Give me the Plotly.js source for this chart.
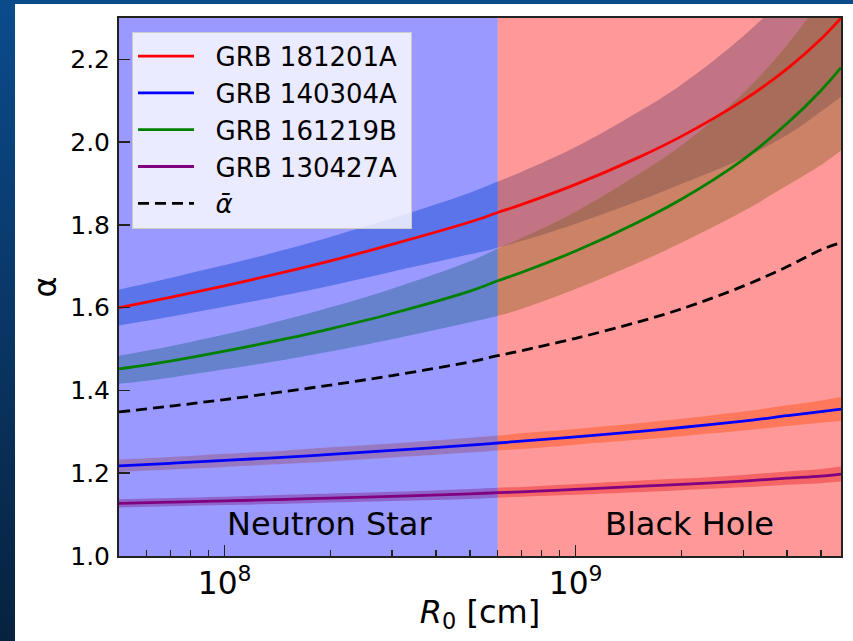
<!DOCTYPE html>
<html><head><meta charset="utf-8">
<script src="https://cdn.plot.ly/plotly-3.0.1.min.js"></script>
<style>
html,body{margin:0;padding:0;width:853px;height:641px;overflow:hidden;background:linear-gradient(to bottom,#0b4b8c,#07223f);}
#chart{position:absolute;left:15px;top:4px;width:838px;height:637px;background:#fff;}
</style></head><body><div id="chart"></div>
<script>
// R0 sample positions [cm]
const R0 = [5e7, 7e7, 1e8, 1.5e8, 2e8, 3e8, 5e8, 6e8, 7e8, 1e9, 1.5e9, 2e9, 3e9, 4e9, 5e9, 5.7e9];

// GRB 181201A
const grb181201A = [1.600, 1.625, 1.653, 1.687, 1.713, 1.753, 1.807, 1.830, 1.849, 1.898, 1.962, 2.014, 2.101, 2.177, 2.249, 2.300];
const grb181201A_hi = [1.644, 1.672, 1.703, 1.741, 1.771, 1.816, 1.878, 1.905, 1.928, 1.988, 2.072, 2.139, 2.256, 2.357, 2.449, 2.520];
const grb181201A_lo = [1.557, 1.578, 1.602, 1.631, 1.653, 1.687, 1.729, 1.745, 1.761, 1.803, 1.857, 1.899, 1.961, 2.017, 2.074, 2.110];

// GRB 161219B
const grb161219B = [1.452, 1.471, 1.495, 1.525, 1.549, 1.586, 1.640, 1.665, 1.685, 1.737, 1.806, 1.862, 1.958, 2.045, 2.125, 2.180];
const grb161219B_hi = [1.484, 1.507, 1.535, 1.572, 1.601, 1.646, 1.712, 1.743, 1.768, 1.832, 1.921, 1.992, 2.118, 2.235, 2.345, 2.420];
const grb161219B_lo = [1.416, 1.431, 1.451, 1.475, 1.494, 1.524, 1.565, 1.580, 1.597, 1.645, 1.708, 1.757, 1.833, 1.895, 1.945, 1.980];

// GRB 140304A
const grb140304A = [1.218, 1.224, 1.231, 1.239, 1.2455, 1.255, 1.268, 1.273, 1.2775, 1.288, 1.3006, 1.3105, 1.326, 1.339, 1.349, 1.355];
const grb140304A_hi = [1.233, 1.239, 1.247, 1.255, 1.2625, 1.272, 1.286, 1.291, 1.2965, 1.307, 1.3206, 1.3315, 1.349, 1.364, 1.376, 1.384];
const grb140304A_lo = [1.203, 1.209, 1.215, 1.223, 1.2285, 1.238, 1.250, 1.255, 1.2585, 1.269, 1.2806, 1.2895, 1.303, 1.314, 1.322, 1.326];

// GRB 130427A
const grb130427A = [1.127, 1.130, 1.133, 1.137, 1.140, 1.144, 1.150, 1.153, 1.155, 1.161, 1.168, 1.173, 1.181, 1.188, 1.193, 1.198];
const grb130427A_hi = [1.137, 1.140, 1.143, 1.148, 1.151, 1.155, 1.162, 1.165, 1.167, 1.174, 1.182, 1.187, 1.196, 1.204, 1.210, 1.216];
const grb130427A_lo = [1.117, 1.120, 1.123, 1.126, 1.129, 1.133, 1.138, 1.141, 1.143, 1.148, 1.154, 1.159, 1.166, 1.172, 1.176, 1.180];

// mean alpha
const alphaBar = [1.348, 1.362, 1.378, 1.398, 1.413, 1.436, 1.469, 1.484, 1.496, 1.526, 1.565, 1.597, 1.652, 1.699, 1.740, 1.757];

// regions: Neutron Star | Black Hole
const regionEdges = [5e7, 6e8, 5.7e9];
const alphaLimits = [1.0, 2.3];
const regionLabels = ['Neutron Star', 'Black Hole'];
const seriesNames = ['GRB 181201A', 'GRB 140304A', 'GRB 161219B', 'GRB 130427A', '<i>ᾱ</i>'];

const NB = '\u00a0\u00a0';
function band(lo, hi, color) {
  return [
    {x: R0, y: lo, mode: 'lines', line: {width: 0, shape: 'spline'}, showlegend: false, hoverinfo: 'skip'},
    {x: R0, y: hi, mode: 'lines', line: {width: 0, shape: 'spline'}, fill: 'tonexty', fillcolor: color, showlegend: false, hoverinfo: 'skip'}
  ];
}
function span(x0, x1, color) {
  return {x: [x0, x1, x1, x0, x0], y: [alphaLimits[0], alphaLimits[0], alphaLimits[1], alphaLimits[1], alphaLimits[0]],
    mode: 'lines', line: {width: 0}, fill: 'toself', fillcolor: color, showlegend: false, hoverinfo: 'skip'};
}
function curve(y, name, color, dash) {
  return {x: R0, y: y, mode: 'lines', name: NB + name + '\u00a0', legendgroup: name,
    line: {color: color, width: 2.8, shape: 'spline', dash: dash || 'solid'}};
}

const data = [].concat(
  band(grb181201A_lo, grb181201A_hi, 'rgba(31,119,180,0.45)'),
  band(grb161219B_lo, grb161219B_hi, 'rgba(44,160,44,0.40)'),
  band(grb140304A_lo, grb140304A_hi, 'rgba(255,127,14,0.42)'),
  band(grb130427A_lo, grb130427A_hi, 'rgba(214,39,40,0.40)'),
  [span(regionEdges[0], regionEdges[1], 'rgba(0,0,255,0.4)'),
   span(regionEdges[1], regionEdges[2], 'rgba(255,0,0,0.4)')],
  [curve(grb181201A, seriesNames[0], '#ff0000'),
   curve(grb140304A, seriesNames[1], '#0000ff'),
   curve(grb161219B, seriesNames[2], '#008000'),
   curve(grb130427A, seriesNames[3], '#800080'),
   curve(alphaBar, seriesNames[4], '#000000', '11px,6px')]
);

const axisCommon = {
  showline: true, mirror: true, linecolor: '#222', linewidth: 2,
  ticks: 'inside', ticklen: 11, tickwidth: 1.6, tickcolor: '#222',
  showgrid: false, zeroline: false, tickfont: {size: 25, color: '#000'}
};

const layout = {
  width: 838, height: 637,
  margin: {l: 104, r: 12, t: 14, b: 85},
  paper_bgcolor: '#ffffff', plot_bgcolor: '#ffffff',
  font: {family: 'DejaVu Sans', color: '#000'},
  xaxis: Object.assign({}, axisCommon, {
    type: 'log', range: [Math.log10(regionEdges[0]), Math.log10(regionEdges[2])],
    dtick: 1, exponentformat: 'power', ticklabelstandoff: 0,
    minor: {ticks: 'inside', ticklen: 6.5, tickwidth: 1.3, tickcolor: '#222', dtick: 'D1', showgrid: false},
    title: {text: '<i>R</i><sub>0</sub> [cm]', font: {size: 32}, standoff: 0}
  }),
  yaxis: Object.assign({}, axisCommon, {
    range: alphaLimits, dtick: 0.2, tick0: 1.0, tickformat: '.1f', ticklabelstandoff: 2,
    title: {text: 'α', font: {size: 32}, standoff: 4}
  }),
  legend: {x: 0.018, y: 0.9745, xanchor: 'left', yanchor: 'top',
    bgcolor: 'rgba(255,255,255,0.8)', bordercolor: '#cccccc', borderwidth: 1,
    font: {size: 26}, itemwidth: 56, tracegroupgap: 0},
  annotations: [
    {x: 8, y: 1.077, xref: 'x', yref: 'y', text: regionLabels[0], showarrow: false, xanchor: 'left', yanchor: 'middle', font: {size: 32}},
    {x: Math.log10(1.2e9), y: 1.077, xref: 'x', yref: 'y', text: regionLabels[1], showarrow: false, xanchor: 'left', yanchor: 'middle', font: {size: 32}}
  ]
};

Plotly.newPlot('chart', data, layout, {staticPlot: true, displayModeBar: false});
</script></body></html>
